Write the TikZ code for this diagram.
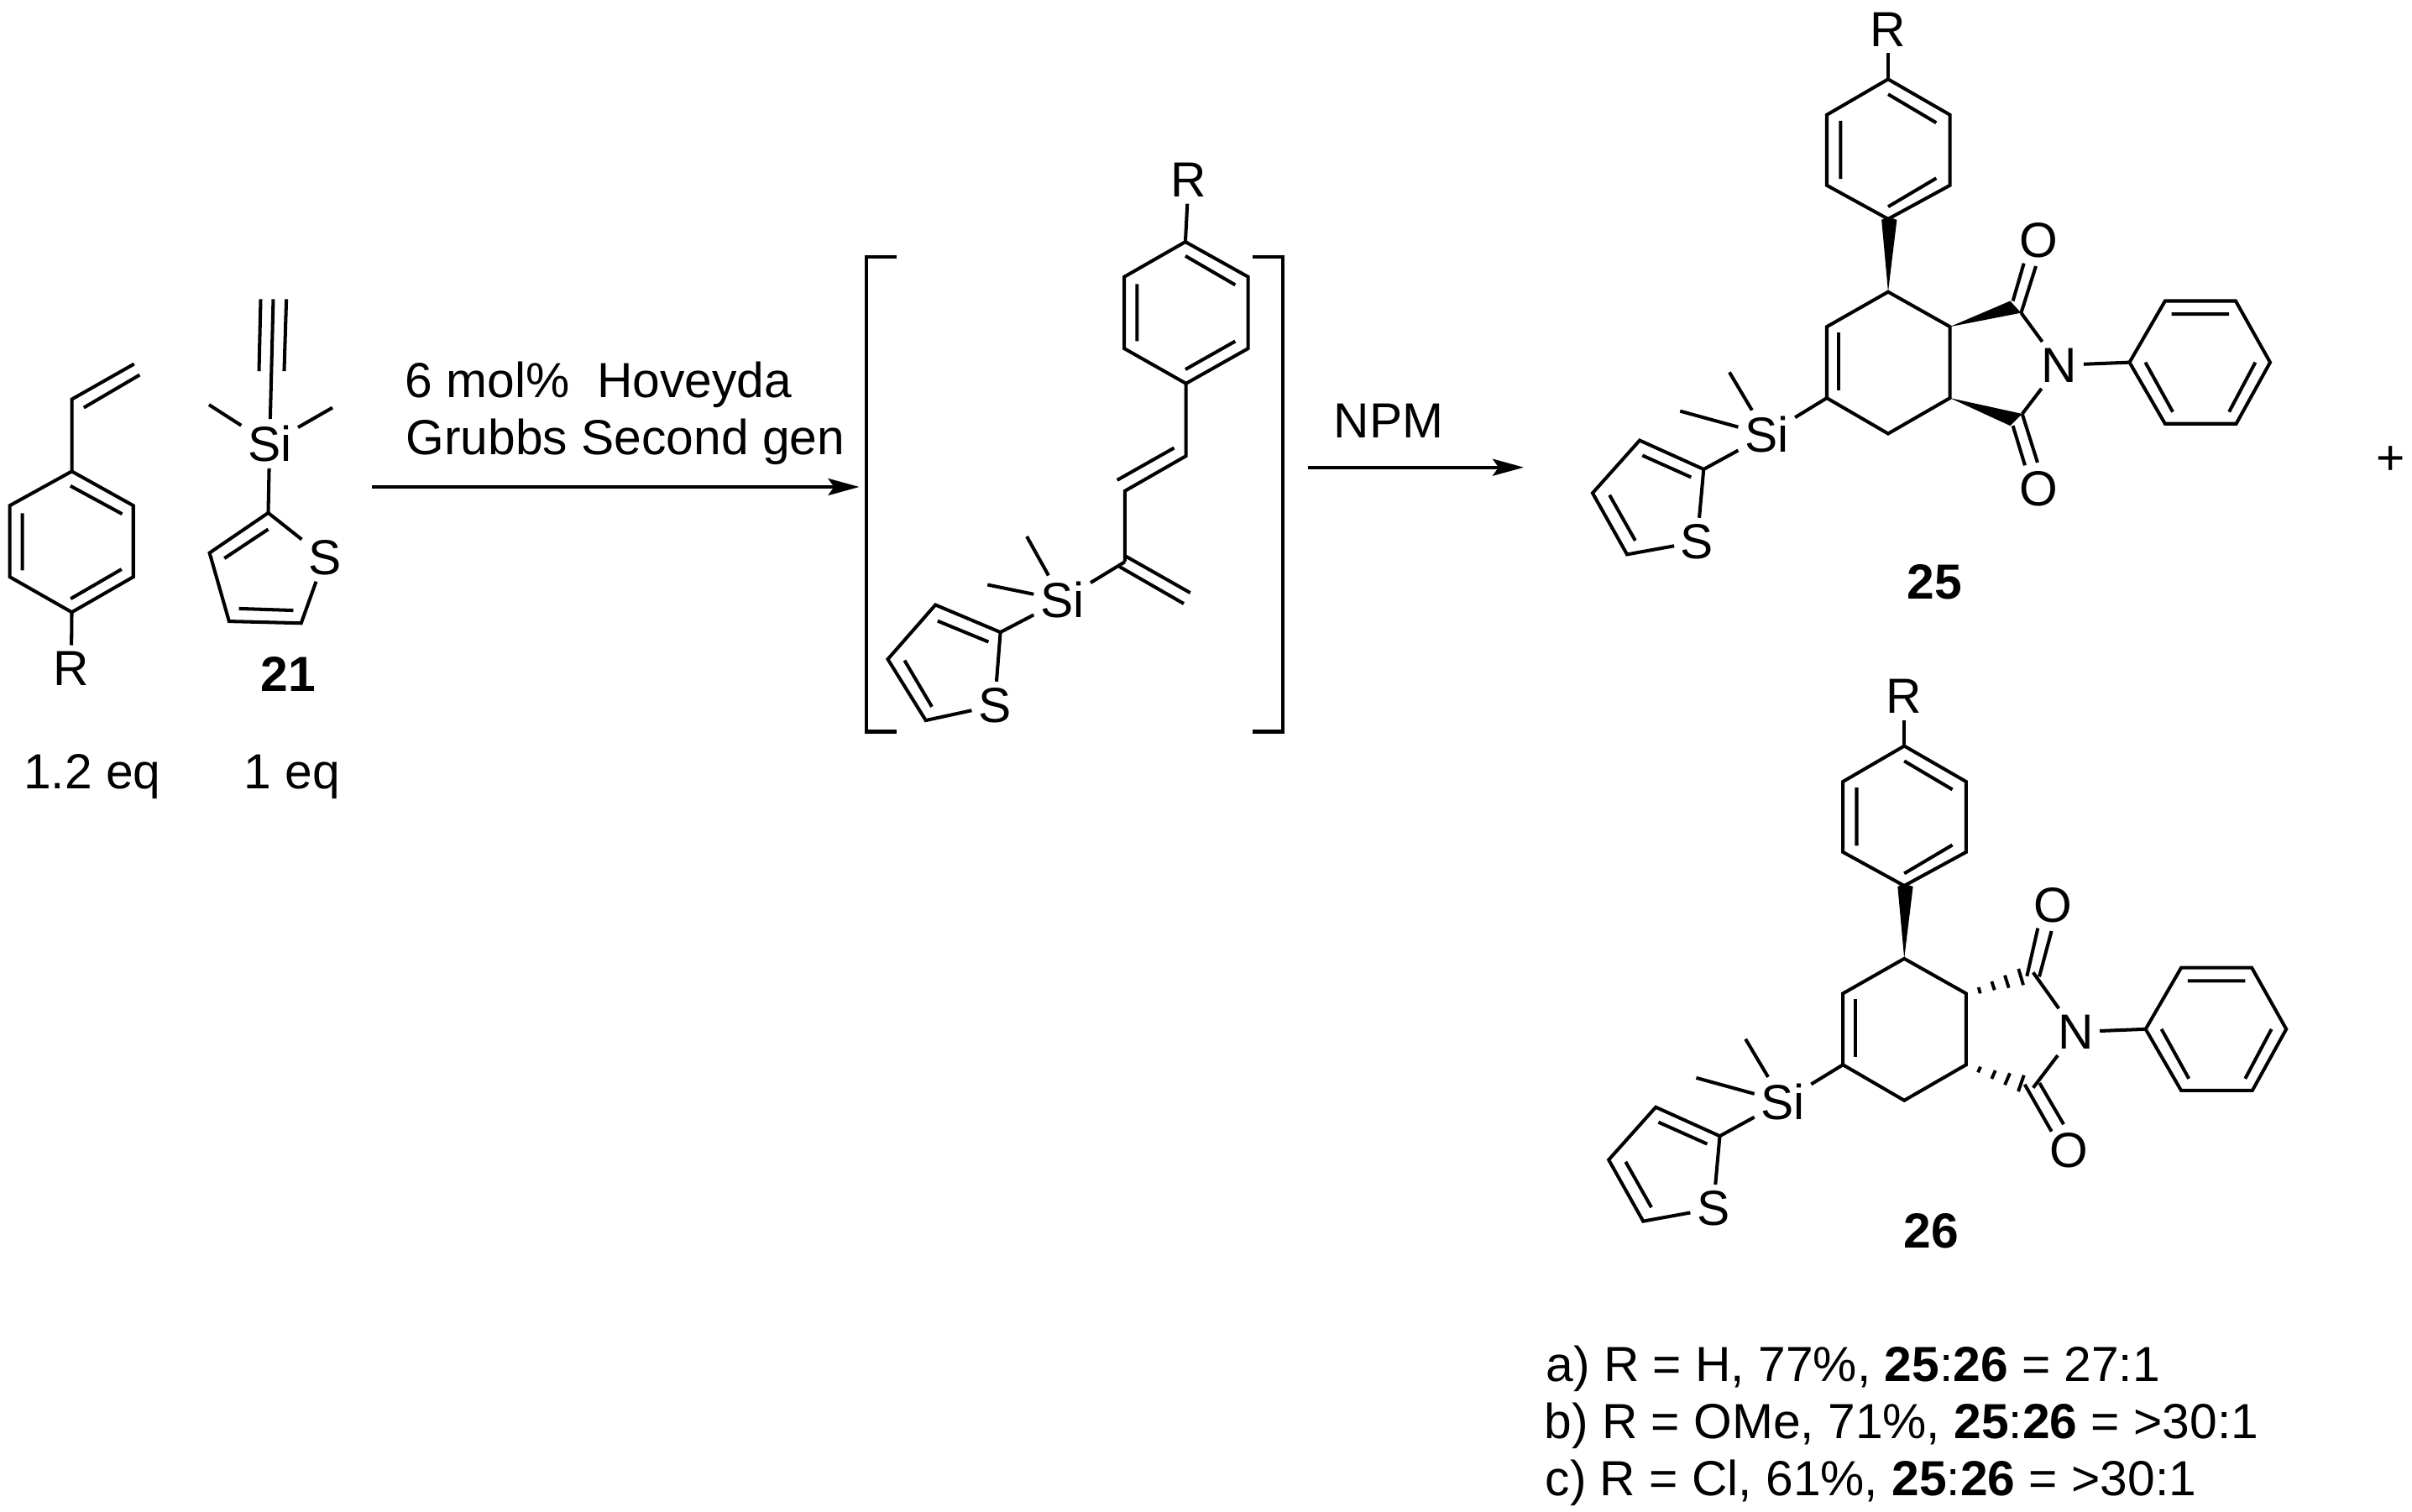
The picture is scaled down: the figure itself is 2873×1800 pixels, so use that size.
\documentclass[tikz,border=0pt]{standalone}
\usepackage{fontspec}
\setmainfont{Liberation Sans}
\usetikzlibrary{arrows.meta}
\tikzset{bond/.style={line width=1.15pt}}
\tikzset{brack/.style={line width=1.25pt}}
\tikzset{hashb/.style={line width=1.1pt}}
\tikzset{rxn/.style={line width=1.15pt,-{Stealth[length=3.7mm,width=2mm,inset=0.7mm]}}}
\tikzset{atom/.style={font=\fontsize{16.7}{20}\selectfont,inner sep=2pt}}
\tikzset{txt/.style={font=\fontsize{16.7}{20}\selectfont,inner sep=0pt,anchor=base west}}
\tikzset{eqv/.style={font=\fontsize{16.7}{20}\selectfont,inner sep=0pt,anchor=base}}
\tikzset{cmpd/.style={font=\fontsize{16.7}{20}\selectfont\bfseries,inner sep=0pt}}
% the part that both adducts share
\newcommand{\adductcore}[1]{
  \node[atom] (R#1) at (612,75) {R};
  \node[atom] (Si#1) at (390,1098) {Si};
  \node[atom] (S#1) at (263,1368) {S};
  \node[atom] (N#1) at (925,922) {N};
  \path (612,200) coordinate (ar#1a) (725,290) coordinate (ar#1b) (725,468) coordinate (ar#1c)
    (612,553) coordinate (ar#1d) (500,468) coordinate (ar#1e) (500,290) coordinate (ar#1f);
  \draw[bond] (ar#1a)--(ar#1b)--(ar#1c)--(ar#1d)--(ar#1e)--(ar#1f)--cycle;
  \draw[bond] (R#1)--(ar#1a);
  \draw[bond] (612,238)--(700,310) (525,305)--(525,452) (612,522)--(700,450);
  \fill (612,737)--(600,555)--(612,548)--(628,555)--cycle;
  \path (612,737) coordinate (cy#1a) (725,825) coordinate (cy#1b) (725,1005) coordinate (cy#1c)
    (612,1095) coordinate (cy#1d) (500,1005) coordinate (cy#1e) (500,825) coordinate (cy#1f);
  \draw[bond] (cy#1a)--(cy#1b)--(cy#1c)--(cy#1d)--(cy#1e)--(cy#1f)--cycle;
  \draw[bond] (522,840)--(522,985);
  \draw[bond] (Si#1)--(cy#1e);
  \coordinate (me#1a) at (322,940);
  \coordinate (me#1b) at (232,1038);
  \draw[bond] (Si#1)--(me#1a);
  \draw[bond] (Si#1)--(me#1b);
  \path (275,1185) coordinate (th#1a) (158,1112) coordinate (th#1b) (72,1245) coordinate (th#1c)
    (135,1400) coordinate (th#1d);
  \draw[bond] (Si#1)--(th#1a);
  \draw[bond] (S#1)--(th#1a)--(th#1b)--(th#1c)--(th#1d)--(S#1);
  \draw[bond] (163,1150)--(252,1205) (103,1250)--(150,1365);
  \path (1053,915) coordinate (ph#1a) (1118,760) coordinate (ph#1b) (1247,760) coordinate (ph#1c)
    (1310,915) coordinate (ph#1d) (1248,1070) coordinate (ph#1e) (1118,1070) coordinate (ph#1f);
  \draw[bond] (ph#1a)--(ph#1b)--(ph#1c)--(ph#1d)--(ph#1e)--(ph#1f)--cycle;
  \draw[bond] (N#1)--(ph#1a);
  \draw[bond] (1130,793)--(1235,793) (1082,915)--(1132,1040) (1283,915)--(1235,1040);
}
\begin{document}
\begin{tikzpicture}[x=0.01cm,y=-0.01cm]
  \useasboundingbox (0,0) rectangle (2873,1800);
  % starting materials
  \begin{scope}[shift={(0,300)},x=0.003333cm,y=-0.004337cm]
    \node[atom] (Rst) at (255,1145) {R};
    \path (257,603) coordinate (sta) (477,697) coordinate (stb) (477,893) coordinate (stc)
      (257,990) coordinate (std) (35,893) coordinate (ste) (35,697) coordinate (stf)
      (257,405) coordinate (stv) (480,308) coordinate (stw);
    \draw[bond] (sta)--(stb)--(stc)--(std)--(ste)--(stf)--cycle;
    \draw[bond] (sta)--(stv)--(stw);
    \draw[bond] (std)--(Rst);
    \draw[bond] (300,428)--(500,338) (252,643)--(437,720) (80,718)--(80,875) (253,953)--(435,872);
    \node[atom] (Sialk) at (965,527) {Si};
    \node[atom] (Salk) at (1162,840) {S};
    \path (978,130) coordinate (alk) (748,420) coordinate (mealka) (1190,428) coordinate (mealkb)
      (960,717) coordinate (tha) (750,827) coordinate (thb) (820,1015) coordinate (thc) (1078,1020) coordinate (thd);
    \draw[bond] (Sialk)--(alk);
    \draw[bond] (933,130)--(927,328) (1025,130)--(1017,328);
    \draw[bond] (Sialk)--(mealka);
    \draw[bond] (Sialk)--(mealkb);
    \draw[bond] (Sialk)--(tha);
    \draw[bond] (Salk)--(tha)--(thb)--(thc)--(thd)--(Salk);
    \draw[bond] (960,762)--(803,842) (855,980)--(1050,985);
    \node[cmpd] (lab21) at (1032,1160) {21};
    \node[eqv] (eqa) at (330,1475) {1.2 eq};
    \node[eqv] (eqb) at (1045,1475) {1 eq};
  \end{scope}
  % first step
  \coordinate (rxnaS) at (443,580);
  \coordinate (rxnaE) at (1023.5,580);
  \draw[rxn] (rxnaS)--(rxnaE);
  \node[txt] (cata) at (482,473) {6 mol\%\ \ Hoveyda};
  \node[txt] (catb) at (483,541) {Grubbs Second gen};
  % diene in brackets
  \begin{scope}[shift={(1000,150)},x=0.003827cm,y=-0.004785cm]
    \draw[brack] (178,325)--(83,325)--(83,1505)--(178,1505);
    \draw[brack] (1285,325)--(1378,325)--(1378,1505)--(1285,1505);
    \node[atom] (Rdi) at (1085,135) {R};
    \node[atom] (Sidi) at (692,1178) {Si};
    \node[atom] (Sdi) at (482,1440) {S};
    \path (1075,288) coordinate (dia) (1270,375) coordinate (dib) (1270,553) coordinate (dic)
      (1077,640) coordinate (did) (885,553) coordinate (die) (885,375) coordinate (dif)
      (1077,820) coordinate (dig) (887,907) coordinate (dih) (887,1083) coordinate (dii)
      (582,1020) coordinate (media) (460,1140) coordinate (medib)
      (500,1258) coordinate (dta) (298,1190) coordinate (dtb) (150,1325) coordinate (dtc) (268,1477) coordinate (dtd);
    \draw[bond] (dia)--(dib)--(dic)--(did)--(die)--(dif)--cycle;
    \draw[bond] (Rdi)--(dia);
    \draw[bond] (1075,323)--(1230,395) (925,393)--(925,535) (1075,605)--(1230,535);
    \draw[bond] (did)--(dig)--(dih)--(dii);
    \draw[bond] (1040,800)--(863,880);
    \draw[bond] (887,1068)--(1090,1160) (870,1095)--(1070,1187);
    \draw[bond] (Sidi)--(dii);
    \draw[bond] (Sidi)--(media);
    \draw[bond] (Sidi)--(medib);
    \draw[bond] (Sidi)--(dta);
    \draw[bond] (Sdi)--(dta)--(dtb)--(dtc)--(dtd)--(Sdi);
    \draw[bond] (305,1230)--(463,1282) (202,1328)--(287,1443);
  \end{scope}
  % second step
  \coordinate (rxnbS) at (1558,556.7);
  \coordinate (rxnbE) at (1815,556.7);
  \draw[rxn] (rxnbS)--(rxnbE);
  \node[txt] (npm) at (1588,521) {NPM};
  % adduct 25
  \begin{scope}[shift={(1850,0)},x=0.006523cm,y=-0.004719cm]
    \adductcore{p}
    \fill (725,825)--(835,760)--(855,790)--cycle;
    \fill (725,1005)--(857,1045)--(835,1075)--cycle;
    \node[atom] (Opa) at (887,607) {O};
    \node[atom] (Opb) at (887,1235) {O};
    \coordinate (cpa) at (855,790);
    \coordinate (cpb) at (857,1045);
    \draw[bond] (840,760)--(860,665) (cpa)--(882,672);
    \draw[bond] (840,1075)--(862,1175) (cpb)--(885,1168);
    \draw[bond] (cpa)--(Np);
    \draw[bond] (cpb)--(Np);
    \node[cmpd] (lab25) at (697,1470) {25};
    \node[atom] (plus) at (1530,1163) {+};
  \end{scope}
  % adduct 26
  \begin{scope}[shift={(1869.2,794.2)},x=0.006523cm,y=-0.004719cm]
    \adductcore{q}
  \end{scope}
  \draw[hashb] (2356.7,1176)--(2358.7,1183.3) (2372.3,1169)--(2375.7,1179.3)
    (2388,1161.7)--(2392.7,1176.7) (2404.3,1154)--(2410,1173.3);
  \draw[hashb] (2359,1270.7)--(2356,1277.3) (2376.7,1275)--(2372.3,1285)
    (2394,1278.3)--(2388,1292.3) (2410.7,1280.7)--(2404,1300);
  \node[atom] (Oqa) at (2445,1078.3) {O};
  \node[atom] (Oqb) at (2464.5,1370) {O};
  \coordinate (cqa) at (2421.7,1158.3);
  \coordinate (cqb) at (2421.7,1295.7);
  \draw[bond] (2414.3,1162.7)--(2427.3,1105.6) (2429,1163.3)--(2443.6,1109);
  \draw[bond] (2411.7,1291.7)--(2443.6,1347.7) (2429.3,1290)--(2458,1339.2);
  \draw[bond] (cqa)--(Nq);
  \draw[bond] (cqb)--(Nq);
  \node[cmpd] (lab26) at (2300,1466.6) {26};
  % results
  \node[txt] (opta) at (1841,1645) {a) R = H, 77\%, \textbf{25}:\textbf{26} = 27:1};
  \node[txt] (optb) at (1839,1713) {b) R = OMe, 71\%, \textbf{25}:\textbf{26} = >30:1};
  \node[txt] (optc) at (1840,1781.7) {c) R = Cl, 61\%, \textbf{25}:\textbf{26} = >30:1};
\end{tikzpicture}
\end{document}
